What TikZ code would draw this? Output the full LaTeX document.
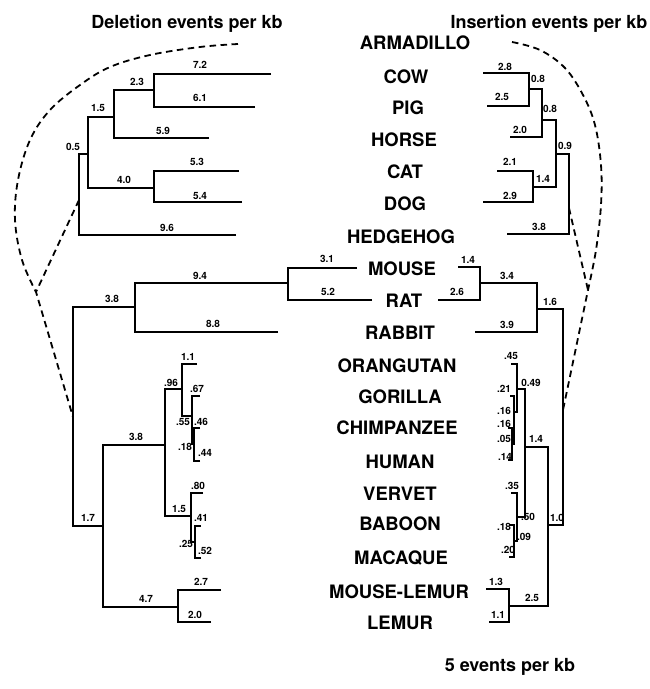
\documentclass[tikz,border=0pt]{standalone}
\usepackage{fontspec}
\setmainfont{TeX Gyre Heros}
\begin{document}
\begin{tikzpicture}[x=1pt,y=-1pt,
  tree/.style={line width=1.9pt},
  dashline/.style={line width=1.8pt, dash pattern=on 6.5pt off 4.5pt},
  taxon/.style={font=\bfseries\fontsize{18.5}{20}\selectfont, inner sep=0pt, text height=13.3pt, text depth=0pt},
  heading/.style={font=\bfseries\fontsize{18}{20}\selectfont, inner sep=0pt, text height=13pt, text depth=0pt},
  brlen/.style={font=\bfseries\fontsize{10}{11}\selectfont, inner sep=0pt, text height=7.2pt, text depth=0pt}]
\useasboundingbox (0,0) rectangle (650,689);
\fill[white] (0,0) rectangle (650,689);

% ---------- titles and names ----------
\node[heading] (tdel) at (187,22) {Deletion events per kb};
\node[heading] (tins) at (549,22) {Insertion events per kb};
\node[taxon] (tarm) at (415,43) {ARMADILLO};
\node[taxon] (tcow) at (406,77) {COW};
\node[taxon] (tpig) at (408,108) {PIG};
\node[taxon] (thor) at (404,140) {HORSE};
\node[taxon] (tcat) at (405,172) {CAT};
\node[taxon] (tdog) at (405,204) {DOG};
\node[taxon] (theh) at (401,237) {HEDGEHOG};
\node[taxon] (tmou) at (402,269) {MOUSE};
\node[taxon] (trat) at (404,301) {RAT};
\node[taxon] (trab) at (400,333) {RABBIT};
\node[taxon] (tora) at (397,366) {ORANGUTAN};
\node[taxon] (tgor) at (400,397) {GORILLA};
\node[taxon] (tchi) at (397,428) {CHIMPANZEE};
\node[taxon] (thum) at (400,462) {HUMAN};
\node[taxon] (tver) at (400,494) {VERVET};
\node[taxon] (tbab) at (400,524) {BABOON};
\node[taxon] (tmac) at (401,558) {MACAQUE};
\node[taxon] (tmle) at (399,592) {MOUSE-LEMUR};
\node[taxon] (tlem) at (400,623) {LEMUR};
\node[heading] (tsca) at (510,665) {5 events per kb};

% ---------- left top tree ----------
\coordinate (LTcow) at (271,74);
\coordinate (LTpig) at (255,107);
\coordinate (LTa) at (154,90);
\coordinate (LThor) at (209,138);
\coordinate (LTb) at (114,117);
\coordinate (LTcat) at (239,171);
\coordinate (LTdog) at (242,202);
\coordinate (LTc) at (154,188);
\coordinate (LTd) at (88,154);
\coordinate (LTheh) at (236,235);
\coordinate (LTroot) at (79,200);
\draw[tree] (LTcow) -| (LTa);
\draw[tree] (LTpig) -| (LTa);
\draw[tree] (LTa) -| (LTb);
\draw[tree] (LThor) -| (LTb);
\draw[tree] (LTcat) -| (LTc);
\draw[tree] (LTdog) -| (LTc);
\draw[tree] (LTb) -| (LTd);
\draw[tree] (LTc) -| (LTd);
\draw[tree] (LTd) -| (LTroot);
\draw[tree] (LTheh) -| (LTroot);

% ---------- right top tree ----------
\coordinate (RTcow) at (483,73);
\coordinate (RTpig) at (487,106);
\coordinate (RTa) at (529,89);
\coordinate (RThor) at (510,137);
\coordinate (RTb) at (542,120);
\coordinate (RTcat) at (497,171);
\coordinate (RTdog) at (483,202);
\coordinate (RTc) at (533,187);
\coordinate (RTd) at (556,154);
\coordinate (RTheh) at (507,234);
\coordinate (RTroot) at (569,208);
\draw[tree] (RTcow) -| (RTa);
\draw[tree] (RTpig) -| (RTa);
\draw[tree] (RTa) -| (RTb);
\draw[tree] (RThor) -| (RTb);
\draw[tree] (RTcat) -| (RTc);
\draw[tree] (RTdog) -| (RTc);
\draw[tree] (RTb) -| (RTd);
\draw[tree] (RTc) -| (RTd);
\draw[tree] (RTd) -| (RTroot);
\draw[tree] (RTheh) -| (RTroot);

% ---------- left bottom tree ----------
\coordinate (LBmou) at (357,268);
\coordinate (LBrat) at (372,300);
\coordinate (LBmr) at (288,283);
\coordinate (LBrab) at (278,332);
\coordinate (LBgl) at (135,307);
\coordinate (LBroot) at (73,417);
\coordinate (LBora) at (197,364);
\coordinate (LBgor) at (200,396);
\coordinate (LBchi) at (200,428);
\coordinate (LBhum) at (200,461);
\coordinate (LBver) at (203,493);
\coordinate (LBbab) at (201,526);
\coordinate (LBmac) at (201,558);
\coordinate (LBmle) at (221,590);
\coordinate (LBlem) at (211,622);
\coordinate (LBch) at (194,444);
\coordinate (LBgch) at (192,416);
\coordinate (LBga) at (182,389);
\coordinate (LBbm) at (195,542);
\coordinate (LBowm) at (191,516);
\coordinate (LBcata) at (165,445);
\coordinate (LBstr) at (178,607);
\coordinate (LBprim) at (103,526);
\draw[tree] (LBmou) -| (LBmr);
\draw[tree] (LBrat) -| (LBmr);
\draw[tree] (LBmr) -| (LBgl);
\draw[tree] (LBrab) -| (LBgl);
\draw[tree] (LBgl) -| (LBroot);
\draw[tree] (LBprim) -| (LBroot);
\draw[tree] (LBchi) -| (LBch);
\draw[tree] (LBhum) -| (LBch);
\draw[tree] (LBgor) -| (LBgch);
\draw[tree] (LBch) -| (LBgch);
\draw[tree] (LBora) -| (LBga);
\draw[tree] (LBgch) -| (LBga);
\draw[tree] (LBbab) -| (LBbm);
\draw[tree] (LBmac) -| (LBbm);
\draw[tree] (LBver) -| (LBowm);
\draw[tree] (LBbm) -| (LBowm);
\draw[tree] (LBga) -| (LBcata);
\draw[tree] (LBowm) -| (LBcata);
\draw[tree] (LBmle) -| (LBstr);
\draw[tree] (LBlem) -| (LBstr);
\draw[tree] (LBcata) -| (LBprim);
\draw[tree] (LBstr) -| (LBprim);

% ---------- right bottom tree ----------
\coordinate (RBmou) at (458,267);
\coordinate (RBrat) at (438,300);
\coordinate (RBmr) at (480,283);
\coordinate (RBrab) at (475,332);
\coordinate (RBgl) at (537,309);
\coordinate (RBroot) at (563,410);
\coordinate (RBora) at (511,364);
\coordinate (RBgor) at (510,396);
\coordinate (RBchi) at (508,428);
\coordinate (RBhum) at (508,460);
\coordinate (RBver) at (511,493);
\coordinate (RBbab) at (509,525);
\coordinate (RBmac) at (509,557);
\coordinate (RBmle) at (486,589);
\coordinate (RBlem) at (489,622);
\coordinate (RBch) at (512,444);
\coordinate (RBgch) at (514,412);
\coordinate (RBga) at (517,389);
\coordinate (RBbm) at (514,541);
\coordinate (RBowm) at (517,517);
\coordinate (RBcata) at (525,447);
\coordinate (RBstr) at (509,606);
\coordinate (RBprim) at (548,525);
\draw[tree] (RBmou) -| (RBmr);
\draw[tree] (RBrat) -| (RBmr);
\draw[tree] (RBmr) -| (RBgl);
\draw[tree] (RBrab) -| (RBgl);
\draw[tree] (RBgl) -| (RBroot);
\draw[tree] (RBprim) -| (RBroot);
\draw[tree] (RBchi) -| (RBch);
\draw[tree] (RBhum) -| (RBch);
\draw[tree] (RBgor) -| (RBgch);
\draw[tree] (RBch) -| (RBgch);
\draw[tree] (RBora) -| (RBga);
\draw[tree] (RBgch) -| (RBga);
\draw[tree] (RBbab) -| (RBbm);
\draw[tree] (RBmac) -| (RBbm);
\draw[tree] (RBver) -| (RBowm);
\draw[tree] (RBbm) -| (RBowm);
\draw[tree] (RBga) -| (RBcata);
\draw[tree] (RBowm) -| (RBcata);
\draw[tree] (RBmle) -| (RBstr);
\draw[tree] (RBlem) -| (RBstr);
\draw[tree] (RBcata) -| (RBprim);
\draw[tree] (RBstr) -| (RBprim);

% ---------- dashed connections ----------
\coordinate (Larm) at (238,44);
\coordinate (Lx) at (36,292);
\coordinate (Rarm) at (512,42);
\coordinate (Rx) at (588,290);
\draw[dashline] plot[smooth, tension=0.6] coordinates {(Larm) (200,47) (150,55) (110,67) (80,85) (50,110) (30,140) (18,180) (15,220) (22,260) (Lx)} -- (LBroot);
\draw[dashline] (LTroot) -- (Lx);
\draw[dashline] plot[smooth, tension=0.6] coordinates {(Rarm) (540,50) (565,68) (583,95) (595,125) (601,165) (601,205) (596,250) (Rx)} -- (RBroot);
\draw[dashline] (RTroot) -- (Rx);

% ---------- branch lengths, left top ----------
\node[brlen] (a1) at (200,65) {7.2};
\node[brlen] (a2) at (200,98) {6.1};
\node[brlen] (a3) at (137,82) {2.3};
\node[brlen] (a4) at (163,131) {5.9};
\node[brlen] (a5) at (98,108) {1.5};
\node[brlen] (a6) at (73,147) {0.5};
\node[brlen] (a7) at (197,162) {5.3};
\node[brlen] (a8) at (124,180) {4.0};
\node[brlen] (a9) at (200,196) {5.4};
\node[brlen] (a10) at (167,228) {9.6};
% ---------- right top ----------
\node[brlen] (b1) at (505,67) {2.8};
\node[brlen] (b2) at (502,97) {2.5};
\node[brlen] (b3) at (538,79) {0.8};
\node[brlen] (b4) at (520,130) {2.0};
\node[brlen] (b5) at (550,109) {0.8};
\node[brlen] (b6) at (565,146) {0.9};
\node[brlen] (b7) at (510,162) {2.1};
\node[brlen] (b8) at (543,179) {1.4};
\node[brlen] (b9) at (510,196) {2.9};
\node[brlen] (b10) at (539,227) {3.8};
% ---------- glires ----------
\node[brlen] (c1) at (327,259) {3.1};
\node[brlen] (c2) at (328,292) {5.2};
\node[brlen] (c3) at (468,260) {1.4};
\node[brlen] (c4) at (457,292) {2.6};
\node[brlen] (c5) at (200,276) {9.4};
\node[brlen] (c6) at (507,276) {3.4};
\node[brlen] (c7) at (112,299) {3.8};
\node[brlen] (c8) at (213,324) {8.8};
\node[brlen] (c9) at (507,325) {3.9};
\node[brlen] (c10) at (550,302) {1.6};
% ---------- left primates ----------
\node[brlen] (d1) at (171,383) {.96};
\node[brlen] (d2) at (188,357) {1.1};
\node[brlen] (d3) at (197,389) {.67};
\node[brlen] (d4) at (183,422) {.55};
\node[brlen] (d5) at (201,422) {.46};
\node[brlen] (d6) at (185,447) {.18};
\node[brlen] (d7) at (205,453) {.44};
\node[brlen] (d8) at (136,437) {3.8};
\node[brlen] (d9) at (198,486) {.80};
\node[brlen] (d10) at (179,509) {1.5};
\node[brlen] (d11) at (201,518) {.41};
\node[brlen] (d12) at (186,544) {.25};
\node[brlen] (d13) at (205,551) {.52};
\node[brlen] (d14) at (88,518) {1.7};
\node[brlen] (d15) at (201,582) {2.7};
\node[brlen] (d16) at (146,599) {4.7};
\node[brlen] (d17) at (195,615) {2.0};
% ---------- right primates ----------
\node[brlen] (e1) at (511,356) {.45};
\node[brlen] (e2) at (531,383) {0.49};
\node[brlen] (e3) at (504,389) {.21};
\node[brlen] (e4) at (504,411) {.16};
\node[brlen] (e5) at (504,424) {.16};
\node[brlen] (e6) at (504,439) {.05};
\node[brlen] (e7) at (505,457) {.14};
\node[brlen] (e8) at (536,439) {1.4};
\node[brlen] (e9) at (512,486) {.35};
\node[brlen] (e10) at (528,517) {.50};
\node[brlen] (e11) at (504,527) {.18};
\node[brlen] (e12) at (524,537) {.09};
\node[brlen] (e13) at (508,550) {.20};
\node[brlen] (e14) at (557,518) {1.0};
\node[brlen] (e15) at (496,582) {1.3};
\node[brlen] (e16) at (498,615) {1.1};
\node[brlen] (e17) at (532,598) {2.5};
\end{tikzpicture}
\end{document}
